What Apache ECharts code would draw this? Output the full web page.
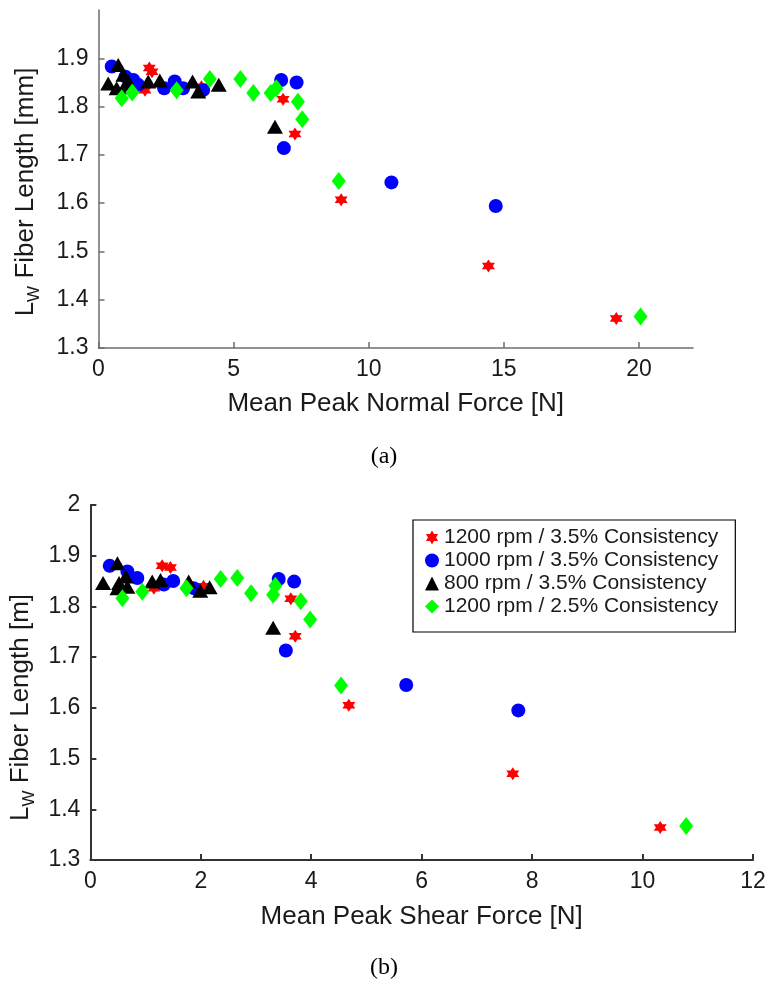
<!DOCTYPE html>
<html>
<head>
<meta charset="utf-8">
<script src="https://cdn.jsdelivr.net/npm/echarts@6/dist/echarts.min.js"></script>
<style>html,body{margin:0;padding:0;background:#fff}#c{width:771px;height:985px}</style>
</head>
<body>
<div id="c"></div>
<script>
// ---- data: [force, LW fiber length] ----
const seriesNames = ['1200 rpm / 3.5% Consistency', '1000 rpm / 3.5% Consistency', '800 rpm / 3.5% Consistency', '1200 rpm / 2.5% Consistency'];

const redNormal = [[1.88,1.880],[1.98,1.872],[1.72,1.834],[3.81,1.841],[6.83,1.815],[7.27,1.743],[8.98,1.607],[14.43,1.470],[19.16,1.361]];
const blueNormal = [[0.49,1.883],[1.00,1.862],[1.29,1.855],[1.47,1.845],[2.43,1.838],[2.82,1.852],[3.13,1.838],[3.87,1.834],[6.76,1.855],[7.33,1.850],[6.86,1.714],[10.84,1.643],[14.70,1.594]];
const blackNormal = [[0.73,1.886],[0.36,1.848],[0.67,1.838],[0.92,1.866],[1.10,1.852],[0.95,1.840],[1.84,1.852],[2.27,1.854],[3.48,1.852],[3.69,1.831],[4.45,1.845],[6.53,1.758]];
const greenNormal = [[0.86,1.817],[1.25,1.829],[2.89,1.834],[4.12,1.857],[5.25,1.857],[5.73,1.828],[6.37,1.828],[6.58,1.838],[7.38,1.810],[7.54,1.774],[8.89,1.646],[20.06,1.365]];

const redShear = [[1.30,1.880],[1.45,1.877],[1.15,1.836],[2.05,1.840],[3.63,1.815],[3.71,1.741],[4.68,1.605],[7.65,1.470],[10.32,1.364]];
const blueShear = [[0.35,1.880],[0.67,1.869],[0.85,1.856],[1.33,1.843],[1.50,1.850],[1.87,1.836],[3.41,1.854],[3.69,1.849],[3.54,1.713],[5.72,1.645],[7.75,1.595]];
const blackShear = [[0.49,1.885],[0.23,1.846],[0.52,1.846],[0.64,1.859],[0.67,1.839],[0.49,1.836],[1.12,1.849],[1.27,1.852],[1.78,1.849],[1.99,1.831],[2.16,1.838],[3.31,1.758]];
const greenShear = [[0.58,1.816],[0.94,1.829],[1.74,1.836],[2.36,1.854],[2.66,1.856],[2.91,1.826],[3.31,1.823],[3.35,1.841],[3.81,1.810],[3.98,1.774],[4.54,1.644],[10.79,1.367]];

const topXTicks = [0, 5, 10, 15, 20];
const topYTicks = [1.3, 1.4, 1.5, 1.6, 1.7, 1.8, 1.9];
const botXTicks = [0, 2, 4, 6, 8, 10, 12];
const botYTicks = [1.3, 1.4, 1.5, 1.6, 1.7, 1.8, 1.9, 2];

// ---- hexagram symbol path ----
function hexagramPath() {
  let d = '';
  for (let k = 0; k < 12; k++) {
    const a = (-90 + 30 * k) * Math.PI / 180;
    const r = (k % 2 === 0) ? 100 : 57.7;
    const x = (r * Math.cos(a)).toFixed(2), y = (r * Math.sin(a)).toFixed(2);
    d += (k === 0 ? 'M' : 'L') + x + ' ' + y + ' ';
  }
  return 'path://' + d + 'Z';
}
const STAR = hexagramPath();

const styles = [
  { color: '#ff0000', symbol: STAR, size: 13 },
  { color: '#0000ff', symbol: 'circle', size: 14 },
  { color: '#000000', symbol: 'triangle', size: [16, 14] },
  { color: '#00ff00', symbol: 'diamond', size: [14, 18] }
];

const FONT = '"Liberation Sans", Arial, Helvetica, sans-serif';
const TXT = '#1a1a1a';

function fmt(v) { return Math.round(v * 10) / 10 + ''; }

function xAxisCfg(idx, min, max, interval, ticks, name, color, lw, gap) {
  return {
    gridIndex: idx, type: 'value', min: min, max: max, interval: interval,
    name: name, nameLocation: 'middle', nameGap: gap,
    nameTextStyle: { fontFamily: FONT, fontSize: 26, color: TXT },
    axisLine: { show: true, lineStyle: { color: color, width: lw } },
    axisTick: { show: true, inside: true, length: 6, lineStyle: { color: color, width: lw }, customValues: ticks },
    axisLabel: { fontFamily: FONT, fontSize: 23, color: TXT, margin: 10, customValues: ticks,
      formatter: v => (ticks.indexOf(v) >= 0 ? fmt(v) : '') },
    splitLine: { show: false }
  };
}
function yAxisCfg(idx, min, max, ticks, unit, color, lw, gap, shift) {
  return {
    gridIndex: idx, type: 'value', min: min, max: max, interval: 0.1,
    name: '{l|L}{w|W}{l| Fiber Length [' + unit + ']}', nameLocation: 'middle', nameGap: gap,
    nameTextStyle: {
      fontFamily: FONT, color: TXT, padding: [0, shift, 0, 0],
      rich: {
        l: { fontFamily: FONT, fontSize: 26, color: TXT },
        w: { fontFamily: FONT, fontSize: 17, color: TXT, padding: [16, 0, 0, 0] }
      }
    },
    axisLine: { show: true, lineStyle: { color: color, width: lw } },
    axisTick: { show: true, inside: true, length: 6, lineStyle: { color: color, width: lw }, customValues: ticks },
    axisLabel: { fontFamily: FONT, fontSize: 23, color: TXT, margin: 10, customValues: ticks,
      formatter: v => { const r = Math.round(v * 10) / 10; return ticks.indexOf(r) >= 0 ? fmt(v) : ''; } },
    splitLine: { show: false }
  };
}

const topData = [redNormal, blueNormal, blackNormal, greenNormal];
const botData = [redShear, blueShear, blackShear, greenShear];
const series = [];
[0, 1].forEach(g => {
  const sets = g === 0 ? topData : botData;
  sets.forEach((d, i) => {
    series.push({
      name: seriesNames[i], type: 'scatter', xAxisIndex: g, yAxisIndex: g,
      data: d, symbol: styles[i].symbol, symbolSize: styles[i].size,
      itemStyle: { color: styles[i].color, opacity: 1 },
      emphasis: { disabled: true }, z: 2 + i
    });
  });
});

const chart = echarts.init(document.getElementById('c'), null, { renderer: 'canvas' });
chart.setOption({
  animation: false,
  backgroundColor: '#fff',
  grid: [
    { left: 98.5, top: 10, width: 594.5, height: 338 },
    { left: 88, top: 505, width: 665, height: 355 }
  ],
  xAxis: [
    xAxisCfg(0, 0, 22, 5, topXTicks, 'Mean Peak Normal Force [N]', '#6e6e6e', 1.5, 43),
    xAxisCfg(1, 0, 12, 2, botXTicks, 'Mean Peak Shear Force [N]', '#333333', 2, 44)
  ],
  yAxis: [
    yAxisCfg(0, 1.3, 2.0, topYTicks, 'mm', '#6e6e6e', 1.5, 56, 26),
    yAxisCfg(1, 1.3, 2.0, botYTicks, 'm', '#333333', 2, 46, 50)
  ],
  legend: {
    orient: 'vertical', left: 413, top: 520,
    padding: [7, 17, 15, 12], itemGap: 2, itemWidth: 14, itemHeight: 14,
    backgroundColor: '#fff', borderColor: '#000', borderWidth: 1.2, borderRadius: 0,
    textStyle: { fontFamily: FONT, fontSize: 21, color: TXT, lineHeight: 21 },
    selectedMode: false,
    data: seriesNames.map((n, i) => ({ name: n, icon: styles[i].symbol, itemStyle: { color: styles[i].color } }))
  },
  graphic: [
    { type: 'text', x: 384, y: 457, style: { text: '(a)', font: '24px "Liberation Serif", "Times New Roman", serif', fill: '#000', textAlign: 'center', textVerticalAlign: 'middle' } },
    { type: 'text', x: 384, y: 968, style: { text: '(b)', font: '24px "Liberation Serif", "Times New Roman", serif', fill: '#000', textAlign: 'center', textVerticalAlign: 'middle' } }
  ],
  series: series
});
</script>
</body>
</html>
